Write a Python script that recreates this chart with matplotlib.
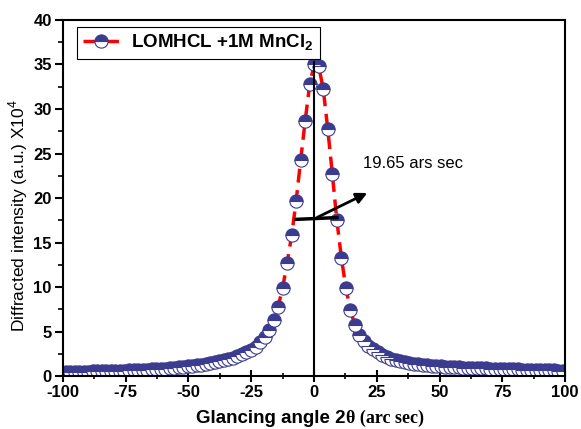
import matplotlib
matplotlib.use('Agg')
import matplotlib.pyplot as plt
import numpy as np
from matplotlib import rcParams

# glancing angle grid (arc sec) and intensity (x10^4)
angle = np.round(np.arange(-98.9, 99.2, 1.8), 1)
intensity = [
    0.45, 0.46, 0.47, 0.48, 0.49, 0.50, 0.51, 0.52, 0.53, 0.55,
    0.56, 0.58, 0.60, 0.62, 0.64, 0.66, 0.68, 0.70, 0.72, 0.75,
    0.78, 0.81, 0.84, 0.88, 0.92, 0.96, 1.01, 1.07, 1.13, 1.19,
    1.26, 1.34, 1.43, 1.53, 1.64, 1.77, 1.91, 2.07, 2.25, 2.45,
    2.67, 2.92, 3.3, 3.8, 4.4, 5.2, 6.3, 7.8, 9.9, 12.7,
    15.8, 19.7, 24.3, 28.7, 32.8, 35.0,
    34.8, 32.2, 27.7, 22.7, 17.5, 13.3, 9.9, 7.4, 5.7, 4.6,
    3.9, 3.4, 3.0, 2.65, 2.38, 2.15, 1.96, 1.80, 1.67, 1.56,
    1.47, 1.39, 1.32, 1.26, 1.21, 1.16, 1.12, 1.08, 1.05, 1.02,
    0.99, 0.97, 0.95, 0.93, 0.91, 0.89, 0.87, 0.85, 0.84, 0.82,
    0.81, 0.79, 0.78, 0.76, 0.75, 0.73, 0.72, 0.70, 0.69, 0.67,
    0.66, 0.64, 0.63, 0.61, 0.60,
]
label = 'LOMHCL +1M MnCl$_\\mathbf{2}$'
fwhm_text = '19.65 ars sec'
peak_top = 35.3
fwhm_left, fwhm_right, fwhm_y = -7.1, 9.1, 17.7
arrow_end = (22.2, 20.7)

rcParams['font.family'] = 'Liberation Sans'
rcParams['mathtext.fontset'] = 'custom'
rcParams['mathtext.bf'] = 'Liberation Sans:bold'
rcParams['mathtext.rm'] = 'Liberation Sans'
rcParams['axes.unicode_minus'] = False
navy = '#3b3b8f'

fig = plt.figure(figsize=(5.81, 4.29), dpi=100)
ax = fig.add_axes([0.1084, 0.1235, 0.8641, 0.8299])

ax.plot(angle, intensity, color='red', linestyle=(0, (4, 2.2)), linewidth=2.5,
        marker='o', markersize=9.5, fillstyle='top', markerfacecolor=navy,
        markerfacecoloralt='white', markeredgecolor=navy, markeredgewidth=0.8,
        label=label)

# peak line, FWHM bar and arrow
ax.plot([0, 0], [0, peak_top], color='black', linewidth=1.5)
ax.plot([fwhm_left, fwhm_right], [fwhm_y - 0.1, fwhm_y + 0.1], color='black', linewidth=2.5)
ax.annotate('', xy=arrow_end, xytext=(0.4, fwhm_y),
            arrowprops=dict(arrowstyle='-|>', lw=2, color='black', mutation_scale=16))
ax.text(19.4, 23.9, fwhm_text, fontsize=12, va='center', ha='left')

ax.set_xlim(-100, 100)
ax.set_ylim(0, 40)
ax.set_xticks(np.arange(-100, 101, 25))
ax.set_xticks(np.arange(-100, 101, 12.5), minor=True)
ax.set_yticks(np.arange(0, 41, 5))
ax.set_yticks(np.arange(0, 41, 2.5), minor=True)
ax.tick_params(axis='x', which='major', direction='inout', length=9, width=1.5)
ax.tick_params(axis='x', which='minor', direction='inout', length=5, width=1.2)
ax.tick_params(axis='y', which='major', direction='out', length=6, width=1.5)
ax.tick_params(axis='y', which='minor', direction='out', length=3.5, width=1.2)
ax.tick_params(labelsize=12, pad=2)
for t in ax.get_xticklabels() + ax.get_yticklabels():
    t.set_fontweight('bold')
for s in ax.spines.values():
    s.set_linewidth(1.5)

ax.set_ylabel('Diffracted intensity (a.u.) X10$^4$', fontsize=12.5, labelpad=4)
ax.yaxis.set_label_coords(-0.066, 0.45)
fig.text(0.5955, 0.024, 'Glancing angle 2', fontsize=13.5, fontweight='bold',
         ha='right', va='center')
fig.text(0.5955, 0.024, '\u03b8 (arc sec)', fontsize=13, fontweight='bold',
         family='Liberation Serif', ha='left', va='center')

leg = ax.legend(loc='upper left', bbox_to_anchor=(0.028, 0.98), prop={'size': 13.5, 'weight': 'bold'},
                fancybox=False, edgecolor='black', framealpha=1, handlelength=2.0,
                borderpad=0.3, handletextpad=0.6, borderaxespad=0)
leg.get_frame().set_linewidth(0.8)

fig.savefig('out.png', dpi=100)
